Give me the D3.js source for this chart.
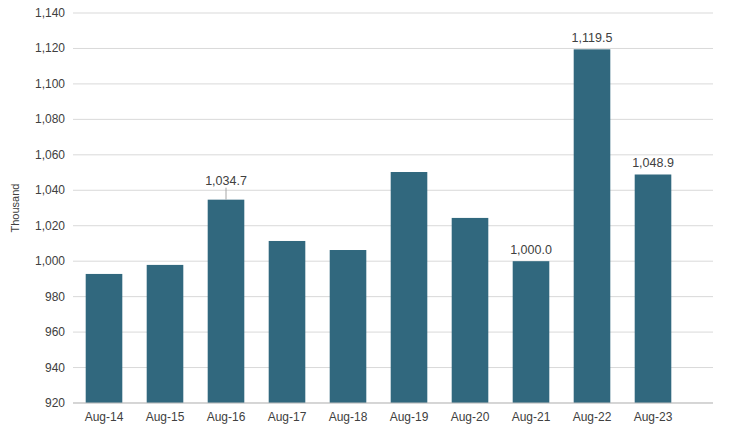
<!DOCTYPE html>
<html><head><meta charset="utf-8">
<script src="https://cdn.jsdelivr.net/npm/d3@7"></script>
<style>body{margin:0;background:#fff}text{font-family:"Liberation Sans",Arial,sans-serif}</style>
</head><body><svg id="c" width="747" height="430"></svg>
<script>
var months = ["Aug-14","Aug-15","Aug-16","Aug-17","Aug-18","Aug-19","Aug-20","Aug-21","Aug-22","Aug-23"];
var values = [992.8, 997.9, 1034.7, 1011.4, 1006.3, 1050.3, 1024.4, 1000.0, 1119.5, 1048.9];
var labelled = ["Aug-16","Aug-21","Aug-22","Aug-23"];
var yTicks = d3.range(920, 1141, 20);

var svg = d3.select("#c");
var m = {left: 73, right: 713, top: 13, bottom: 403};

// bars sit in a narrower band than the gridlines
var x = d3.scaleBand().domain(months).range([73.5, 683.5]).paddingInner(0.4).paddingOuter(0.2);
var y = d3.scaleLinear().domain([920, 1140]).range([m.bottom, m.top]);

// grid
svg.append("g").selectAll("line").data(yTicks).join("line")
  .attr("x1", m.left).attr("x2", m.right)
  .attr("y1", d => y(d)).attr("y2", d => y(d))
  .attr("stroke", "#d9d9d9");

svg.append("g").selectAll("text").data(yTicks).join("text")
  .attr("x", m.left - 8).attr("y", d => y(d) + 4)
  .attr("text-anchor", "end").attr("font-size", 12).attr("fill", "#404040")
  .text(d3.format(","));

svg.append("text").attr("transform", "translate(19,208) rotate(-90)")
  .attr("text-anchor", "middle").attr("font-size", 11).attr("fill", "#404040").text("Thousand");

svg.append("g").selectAll("rect").data(months).join("rect")
  .attr("x", d => x(d)).attr("width", x.bandwidth())
  .attr("y", (d, i) => y(values[i])).attr("height", (d, i) => y(920) - y(values[i]))
  .attr("fill", "#31687e");

svg.append("line").attr("x1", m.left).attr("x2", m.right)
  .attr("y1", m.bottom).attr("y2", m.bottom).attr("stroke", "#bfbfbf");

svg.append("g").selectAll("text").data(months).join("text")
  .attr("x", d => x(d) + x.bandwidth() / 2).attr("y", m.bottom + 18)
  .attr("text-anchor", "middle").attr("font-size", 12).attr("fill", "#404040").text(d => d);

var lab = months.map((d, i) => ({m: d, v: values[i]})).filter(d => labelled.includes(d.m));
svg.append("g").selectAll("text").data(lab).join("text")
  .attr("x", d => x(d.m) + x.bandwidth() / 2)
  .attr("y", d => y(d.v) - (d.m === "Aug-16" ? 15 : 7))
  .attr("text-anchor", "middle").attr("font-size", 12.5).attr("fill", "#404040")
  .text(d => d3.format(",.1f")(d.v));
// leader line for Aug-16
var l16 = lab.filter(d => d.m === "Aug-16");
svg.append("g").selectAll("line").data(l16).join("line")
  .attr("x1", d => x(d.m) + x.bandwidth() / 2).attr("x2", d => x(d.m) + x.bandwidth() / 2)
  .attr("y1", d => y(d.v) - 12).attr("y2", d => y(d.v))
  .attr("stroke", "#a6a6a6");
</script></body></html>
